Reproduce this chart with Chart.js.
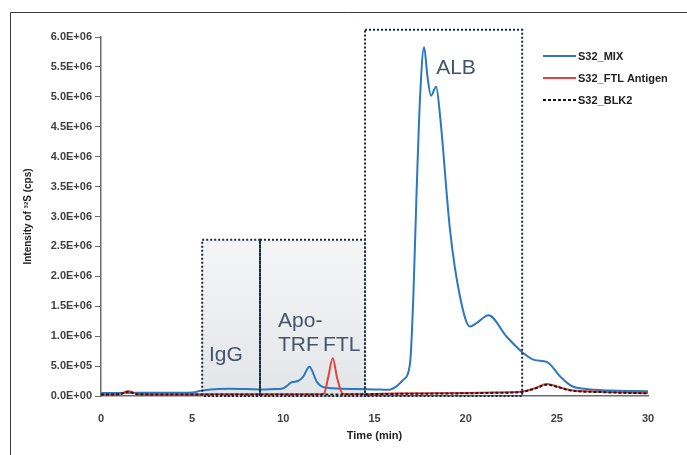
<!DOCTYPE html>
<html>
<head>
<meta charset="utf-8">
<script src="https://cdn.jsdelivr.net/npm/chart.js@4.4.1/dist/chart.umd.min.js"></script>
<style>
  html, body { margin: 0; padding: 0; background: #fff; }
  #wrap { width: 687px; height: 455px; position: relative; }
</style>
</head>
<body>
<div id="wrap"><canvas id="chromChart" width="687" height="455"></canvas></div>
<script>
// S32_MIX trace (time in min, intensity in cps)
const mixTime = [0, 2, 4, 5, 5.5, 6, 7, 8, 9, 9.5, 9.9, 10.2, 10.45, 10.8, 11.1, 11.43, 11.83, 12.1, 12.5, 13, 14, 15, 15.8, 16.2, 16.57, 16.95, 17.13, 17.3, 17.5, 17.72, 17.9, 18.1, 18.38, 18.6, 19.14, 19.69, 20.24, 20.6, 21.25, 22.25, 23.15, 23.8, 24.45, 25.2, 25.8, 26.5, 28, 30];
const mixIntensity = [50000, 55000, 55000, 60000, 90000, 110000, 120000, 115000, 110000, 115000, 120000, 170000, 230000, 250000, 330000, 490000, 240000, 160000, 135000, 125000, 115000, 110000, 105000, 160000, 270000, 550000, 1660000, 3330000, 5000000, 5830000, 5350000, 5020000, 5170000, 4670000, 2780000, 1660000, 1160000, 1220000, 1350000, 990000, 720000, 600000, 570000, 320000, 170000, 120000, 90000, 80000];

// S32_FTL Antigen trace
const ftlTime = [0, 1, 1.5, 2, 4, 8, 12, 12.23, 12.45, 12.71, 12.95, 13.25, 13.6, 16, 20, 22, 23, 23.8, 24.45, 25, 25.7, 27.4, 30];
const ftlIntensity = [30000, 35000, 80000, 35000, 30000, 30000, 30000, 40000, 300000, 630000, 300000, 40000, 30000, 40000, 50000, 60000, 70000, 130000, 200000, 160000, 100000, 70000, 50000];

// S32_BLK2 trace
const blkTime = [0, 1, 1.5, 2, 4, 8, 12, 16, 20, 22, 23, 23.8, 24.45, 25, 25.7, 27.4, 30];
const blkIntensity = [25000, 30000, 70000, 30000, 25000, 25000, 25000, 35000, 45000, 55000, 65000, 125000, 190000, 155000, 95000, 65000, 45000];

const seriesNames = ['S32_MIX', 'S32_FTL Antigen', 'S32_BLK2'];

// fraction windows (dotted boxes)
const regionStart = [5.55, 8.72, 14.48];
const regionEnd = [8.72, 14.48, 23.1];
const regionTop = [2610000, 2610000, 6120000];
const regionShaded = [true, true, false];

// peak labels
const peakLabels = ['IgG', 'Apo-', 'TRF', 'FTL', 'ALB'];

const xTicks = [0, 5, 10, 15, 20, 25, 30];

const tickFont = { family: "'Liberation Sans Narrow', 'Liberation Sans', Arial, sans-serif", size: 11, weight: 'bold' };
const lineColors = ['#2b78c0', '#e8403c', '#1a1a1a'];
const lineDashes = [[], [], [3, 2]];

function toPoints(xs, ys) {
    return xs.map((x, i) => ({ x: x, y: ys[i] }));
}

// scientific label like 5.0E+05
function sciLabel(v) {
    if (v === 0) return '0.0E+00';
    const exp = Math.floor(Math.log10(v) + 1e-9);
    const mant = v / Math.pow(10, exp);
    return mant.toFixed(1) + 'E+' + String(exp).padStart(2, '0');
}

// where the peak names sit (data coords: left x, baseline y)
const labelPos = [[5.92, 590000], [9.71, 1160000], [9.71, 760000], [12.18, 760000], [18.38, 5380000]];

const decorPlugin = {
    id: 'decor',
    beforeDraw(chart) {
        const ctx = chart.ctx;
        ctx.save();
        ctx.fillStyle = '#fff';
        ctx.fillRect(0, 0, chart.width, chart.height);
        // outer frame
        ctx.strokeStyle = '#3a3a3a';
        ctx.lineWidth = 1;
        ctx.beginPath();
        ctx.moveTo(10.5, chart.height);
        ctx.lineTo(10.5, 12.5);
        ctx.lineTo(chart.width, 12.5);
        ctx.stroke();
        ctx.restore();
    },
    beforeDatasetsDraw(chart) {
        const ctx = chart.ctx;
        const xs = chart.scales.x, ys = chart.scales.y;
        ctx.save();
        regionStart.forEach((s, i) => {
            if (!regionShaded[i]) return;
            const x1 = xs.getPixelForValue(s), x2 = xs.getPixelForValue(regionEnd[i]);
            const y1 = ys.getPixelForValue(regionTop[i]), y2 = ys.getPixelForValue(0);
            const g = ctx.createLinearGradient(0, y1, 0, y2);
            g.addColorStop(0, '#f4f5f6');
            g.addColorStop(1, '#e3e6e9');
            ctx.fillStyle = g;
            ctx.fillRect(x1, y1, x2 - x1, y2 - y1);
        });
        ctx.restore();
    },
    afterDatasetsDraw(chart) {
        const ctx = chart.ctx;
        const xs = chart.scales.x, ys = chart.scales.y;
        ctx.save();
        // dotted windows
        ctx.strokeStyle = '#1c2a44';
        ctx.lineWidth = 2;
        ctx.setLineDash([2, 2]);
        regionStart.forEach((s, i) => {
            const x1 = xs.getPixelForValue(s), x2 = xs.getPixelForValue(regionEnd[i]);
            const y1 = ys.getPixelForValue(regionTop[i]), y2 = ys.getPixelForValue(0);
            ctx.strokeRect(x1, y1, x2 - x1, y2 - y1);
        });
        ctx.setLineDash([]);

        // peak names
        ctx.fillStyle = '#44546a';
        ctx.font = "21px 'Liberation Sans', Arial, sans-serif";
        ctx.textBaseline = 'alphabetic';
        ctx.textAlign = 'left';
        peakLabels.forEach((t, i) => {
            ctx.fillText(t, xs.getPixelForValue(labelPos[i][0]), ys.getPixelForValue(labelPos[i][1]));
        });

        // legend
        const ly = [56, 78, 100];
        ctx.lineWidth = 2;
        seriesNames.forEach((n, i) => {
            ctx.strokeStyle = lineColors[i];
            ctx.setLineDash(lineDashes[i]);
            ctx.beginPath();
            ctx.moveTo(543, ly[i]);
            ctx.lineTo(576, ly[i]);
            ctx.stroke();
            ctx.setLineDash([]);
            ctx.fillStyle = '#222';
            ctx.font = "bold 11px 'Liberation Sans Narrow', 'Liberation Sans', Arial, sans-serif";
            ctx.textBaseline = 'middle';
            ctx.fillText(n, 578, ly[i] + 1);
        });
        ctx.restore();
    }
};

const ctx = document.getElementById('chromChart').getContext('2d');
new Chart(ctx, {
    type: 'line',
    data: {
        datasets: [
            { label: seriesNames[2], data: toPoints(blkTime, blkIntensity), borderColor: lineColors[2], borderDash: lineDashes[2], borderWidth: 2, pointRadius: 0, cubicInterpolationMode: 'monotone', fill: false },
            { label: seriesNames[1], data: toPoints(ftlTime, ftlIntensity), borderColor: lineColors[1], borderWidth: 2, pointRadius: 0, cubicInterpolationMode: 'monotone', fill: false },
            { label: seriesNames[0], data: toPoints(mixTime, mixIntensity), borderColor: lineColors[0], borderWidth: 2, pointRadius: 0, cubicInterpolationMode: 'monotone', fill: false }
        ]
    },
    options: {
        responsive: false,
        animation: false,
        events: [],
        layout: { padding: { left: 18, top: 37, right: 39, bottom: 0 } },
        plugins: { legend: { display: false }, tooltip: { enabled: false } },
        scales: {
            x: {
                type: 'linear',
                min: 0,
                max: 30,
                afterBuildTicks: s => { s.ticks = xTicks.map(v => ({ value: v })); },
                afterFit: s => { s.height = 59; },
                grid: { display: false },
                border: { display: true, color: '#6b6b6b', width: 1.5 },
                ticks: { font: tickFont, color: '#404040', padding: 8, maxRotation: 0 },
                title: { display: true, text: 'Time (min)', font: tickFont, color: '#222', padding: { top: 4, bottom: 12 } }
            },
            y: {
                min: 0,
                max: 6000000,
                afterFit: s => { s.width = 83; },
                grid: { display: true, drawOnChartArea: false, drawTicks: true, tickLength: 6, color: '#6b6b6b' },
                border: { display: true, color: '#6b6b6b', width: 1.5 },
                ticks: { stepSize: 500000, font: tickFont, color: '#404040', padding: 3, callback: v => sciLabel(v) },
                title: { display: true, text: 'Intensity of \u00b3\u00b2S (cps)', font: { family: tickFont.family, size: 10, weight: 'bold' }, color: '#222', padding: { top: 4, bottom: 0 } }
            }
        }
    },
    plugins: [decorPlugin]
});
</script>
</body>
</html>
